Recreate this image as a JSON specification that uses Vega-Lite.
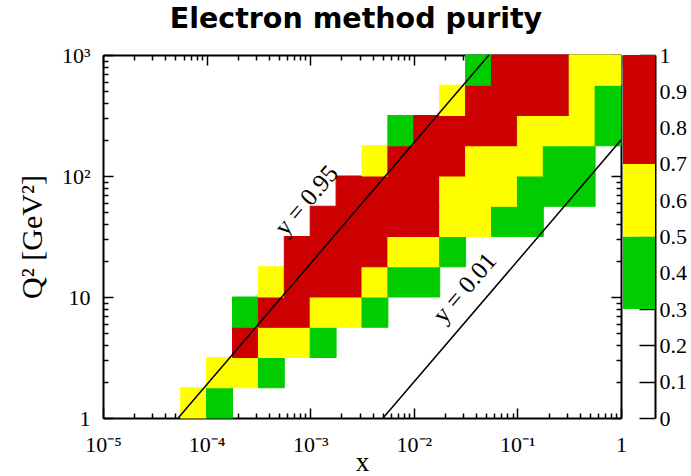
{
  "$schema": "https://vega.github.io/schema/vega-lite/v6.json",
  "background": "white",
  "padding": {"left": 17, "top": 4, "right": 0, "bottom": 0},
  "title": {"text": "Electron method purity", "font": "DejaVu Sans", "fontSize": 28.5, "fontWeight": "bold", "color": "black", "anchor": "middle", "offset": 11, "dx": 4},
  "config": {
    "view": {"stroke": null},
    "axis": {
      "labelFont": "Liberation Serif", "labelFontSize": 22, "labelColor": "black",
      "titleFont": "Liberation Serif", "titleFontSize": 30, "titleFontWeight": "normal", "titleColor": "black",
      "tickColor": "black", "tickWidth": 1.5, "domainColor": "black", "domainWidth": 2,
      "grid": false, "labelFlush": false, "labelOverlap": false, "labelBound": false
    }
  },
  "datasets": {
    "cells": [
      {"x0":5.623e-5,"x1":1e-4,"q0":1,"q1":1.778,"p":0.6},
      {"x0":1e-4,"x1":1.778e-4,"q0":1,"q1":1.778,"p":0.4},
      {"x0":1e-4,"x1":1.778e-4,"q0":1.778,"q1":3.162,"p":0.6},
      {"x0":1.778e-4,"x1":3.162e-4,"q0":1.778,"q1":3.162,"p":0.6},
      {"x0":3.162e-4,"x1":5.623e-4,"q0":1.778,"q1":3.162,"p":0.4},
      {"x0":1.778e-4,"x1":3.162e-4,"q0":3.162,"q1":5.623,"p":0.85},
      {"x0":3.162e-4,"x1":5.623e-4,"q0":3.162,"q1":5.623,"p":0.6},
      {"x0":5.623e-4,"x1":1e-3,"q0":3.162,"q1":5.623,"p":0.6},
      {"x0":1e-3,"x1":1.778e-3,"q0":3.162,"q1":5.623,"p":0.4},
      {"x0":1.778e-4,"x1":3.162e-4,"q0":5.623,"q1":10,"p":0.4},
      {"x0":3.162e-4,"x1":5.623e-4,"q0":5.623,"q1":10,"p":0.85},
      {"x0":5.623e-4,"x1":1e-3,"q0":5.623,"q1":10,"p":0.85},
      {"x0":1e-3,"x1":1.778e-3,"q0":5.623,"q1":10,"p":0.6},
      {"x0":1.778e-3,"x1":3.162e-3,"q0":5.623,"q1":10,"p":0.6},
      {"x0":3.162e-3,"x1":5.623e-3,"q0":5.623,"q1":10,"p":0.4},
      {"x0":3.162e-4,"x1":5.623e-4,"q0":10,"q1":17.78,"p":0.6},
      {"x0":5.623e-4,"x1":1e-3,"q0":10,"q1":17.78,"p":0.85},
      {"x0":1e-3,"x1":1.778e-3,"q0":10,"q1":17.78,"p":0.85},
      {"x0":1.778e-3,"x1":3.162e-3,"q0":10,"q1":17.78,"p":0.85},
      {"x0":3.162e-3,"x1":5.623e-3,"q0":10,"q1":17.78,"p":0.6},
      {"x0":5.623e-3,"x1":0.01,"q0":10,"q1":17.78,"p":0.4},
      {"x0":0.01,"x1":0.01778,"q0":10,"q1":17.78,"p":0.4},
      {"x0":5.623e-4,"x1":1e-3,"q0":17.78,"q1":31.62,"p":0.85},
      {"x0":1e-3,"x1":1.778e-3,"q0":17.78,"q1":31.62,"p":0.85},
      {"x0":1.778e-3,"x1":3.162e-3,"q0":17.78,"q1":31.62,"p":0.85},
      {"x0":3.162e-3,"x1":5.623e-3,"q0":17.78,"q1":31.62,"p":0.85},
      {"x0":5.623e-3,"x1":0.01,"q0":17.78,"q1":31.62,"p":0.6},
      {"x0":0.01,"x1":0.01778,"q0":17.78,"q1":31.62,"p":0.6},
      {"x0":0.01778,"x1":0.03162,"q0":17.78,"q1":31.62,"p":0.4},
      {"x0":1e-3,"x1":1.778e-3,"q0":31.62,"q1":56.23,"p":0.85},
      {"x0":1.778e-3,"x1":3.162e-3,"q0":31.62,"q1":56.23,"p":0.85},
      {"x0":3.162e-3,"x1":5.623e-3,"q0":31.62,"q1":56.23,"p":0.85},
      {"x0":5.623e-3,"x1":0.01,"q0":31.62,"q1":56.23,"p":0.85},
      {"x0":0.01,"x1":0.01778,"q0":31.62,"q1":56.23,"p":0.85},
      {"x0":0.01778,"x1":0.03162,"q0":31.62,"q1":56.23,"p":0.6},
      {"x0":0.03162,"x1":0.05623,"q0":31.62,"q1":56.23,"p":0.6},
      {"x0":0.05623,"x1":0.1,"q0":31.62,"q1":56.23,"p":0.4},
      {"x0":0.1,"x1":0.1778,"q0":31.62,"q1":56.23,"p":0.4},
      {"x0":1.778e-3,"x1":3.162e-3,"q0":56.23,"q1":100,"p":0.85},
      {"x0":3.162e-3,"x1":5.623e-3,"q0":56.23,"q1":100,"p":0.85},
      {"x0":5.623e-3,"x1":0.01,"q0":56.23,"q1":100,"p":0.85},
      {"x0":0.01,"x1":0.01778,"q0":56.23,"q1":100,"p":0.85},
      {"x0":0.01778,"x1":0.03162,"q0":56.23,"q1":100,"p":0.6},
      {"x0":0.03162,"x1":0.05623,"q0":56.23,"q1":100,"p":0.6},
      {"x0":0.05623,"x1":0.1,"q0":56.23,"q1":100,"p":0.6},
      {"x0":0.1,"x1":0.1778,"q0":56.23,"q1":100,"p":0.4},
      {"x0":0.1778,"x1":0.3162,"q0":56.23,"q1":100,"p":0.4},
      {"x0":0.3162,"x1":0.5623,"q0":56.23,"q1":100,"p":0.4},
      {"x0":3.162e-3,"x1":5.623e-3,"q0":100,"q1":177.8,"p":0.6},
      {"x0":5.623e-3,"x1":0.01,"q0":100,"q1":177.8,"p":0.85},
      {"x0":0.01,"x1":0.01778,"q0":100,"q1":177.8,"p":0.85},
      {"x0":0.01778,"x1":0.03162,"q0":100,"q1":177.8,"p":0.85},
      {"x0":0.03162,"x1":0.05623,"q0":100,"q1":177.8,"p":0.6},
      {"x0":0.05623,"x1":0.1,"q0":100,"q1":177.8,"p":0.6},
      {"x0":0.1,"x1":0.1778,"q0":100,"q1":177.8,"p":0.6},
      {"x0":0.1778,"x1":0.3162,"q0":100,"q1":177.8,"p":0.4},
      {"x0":0.3162,"x1":0.5623,"q0":100,"q1":177.8,"p":0.4},
      {"x0":5.623e-3,"x1":0.01,"q0":177.8,"q1":316.2,"p":0.4},
      {"x0":0.01,"x1":0.01778,"q0":177.8,"q1":316.2,"p":0.85},
      {"x0":0.01778,"x1":0.03162,"q0":177.8,"q1":316.2,"p":0.85},
      {"x0":0.03162,"x1":0.05623,"q0":177.8,"q1":316.2,"p":0.85},
      {"x0":0.05623,"x1":0.1,"q0":177.8,"q1":316.2,"p":0.85},
      {"x0":0.1,"x1":0.1778,"q0":177.8,"q1":316.2,"p":0.6},
      {"x0":0.1778,"x1":0.3162,"q0":177.8,"q1":316.2,"p":0.6},
      {"x0":0.3162,"x1":0.5623,"q0":177.8,"q1":316.2,"p":0.6},
      {"x0":0.5623,"x1":1,"q0":177.8,"q1":316.2,"p":0.4},
      {"x0":0.01778,"x1":0.03162,"q0":316.2,"q1":562.3,"p":0.6},
      {"x0":0.03162,"x1":0.05623,"q0":316.2,"q1":562.3,"p":0.85},
      {"x0":0.05623,"x1":0.1,"q0":316.2,"q1":562.3,"p":0.85},
      {"x0":0.1,"x1":0.1778,"q0":316.2,"q1":562.3,"p":0.85},
      {"x0":0.1778,"x1":0.3162,"q0":316.2,"q1":562.3,"p":0.85},
      {"x0":0.3162,"x1":0.5623,"q0":316.2,"q1":562.3,"p":0.6},
      {"x0":0.5623,"x1":1,"q0":316.2,"q1":562.3,"p":0.4},
      {"x0":0.03162,"x1":0.05623,"q0":562.3,"q1":1000,"p":0.4},
      {"x0":0.05623,"x1":0.1,"q0":562.3,"q1":1000,"p":0.85},
      {"x0":0.1,"x1":0.1778,"q0":562.3,"q1":1000,"p":0.85},
      {"x0":0.1778,"x1":0.3162,"q0":562.3,"q1":1000,"p":0.85},
      {"x0":0.3162,"x1":0.5623,"q0":562.3,"q1":1000,"p":0.6},
      {"x0":0.5623,"x1":1,"q0":562.3,"q1":1000,"p":0.6}
    ],
    "lines": [
      {"name":"y = 0.95","x":5.316e-5,"q2":1},
      {"name":"y = 0.95","x":0.05316,"q2":1000},
      {"name":"y = 0.01","x":0.00505,"q2":1},
      {"name":"y = 0.01","x":1,"q2":198}
    ],
    "labels": [
      {"label":"y = 0.95","x":9.2e-4,"q2":63},
      {"label":"y = 0.01","x":0.031,"q2":11.9}
    ],
    "cbar": [
      {"lo":0.3,"hi":0.5,"p":0.4},
      {"lo":0.5,"hi":0.7,"p":0.6},
      {"lo":0.7,"hi":1,"p":0.85}
    ]
  },
  "bounds": "flush",
  "spacing": 2,
  "resolve": {"scale": {"x": "independent", "y": "independent", "color": "independent"}},
  "hconcat": [
    {
      "width": 518,
      "height": 363,
      "resolve": {"axis": {"x": "independent", "y": "independent"}},
      "layer": [
        {
          "data": {"name": "cells"},
          "mark": {"type": "rect", "strokeWidth": 1},
          "encoding": {
            "x": {"field": "x0", "type": "quantitative",
              "scale": {"type": "log", "domain": [1e-5, 1], "nice": false},
              "axis": {"orient": "bottom", "title": "x", "titlePadding": -11, "titleFontSize": 27,
                "values": [1e-5,2e-5,3e-5,4e-5,5e-5,6e-5,7e-5,8e-5,9e-5,1e-4,2e-4,3e-4,4e-4,5e-4,6e-4,7e-4,8e-4,9e-4,1e-3,2e-3,3e-3,4e-3,5e-3,6e-3,7e-3,8e-3,9e-3,0.01,0.02,0.03,0.04,0.05,0.06,0.07,0.08,0.09,0.1,0.2,0.3,0.4,0.5,0.6,0.7,0.8,0.9,1],
                "tickSize": {"condition": {"test": "abs(log(datum.value)/LN10 - round(log(datum.value)/LN10)) < 0.001", "value": -10}, "value": -5},
                "labelPadding": 26,
                "labelExpr": "abs(log(datum.value)/LN10 - round(log(datum.value)/LN10)) < 0.001 ? (datum.value > 0.5 ? '1' : '10⁻' + ['⁰','¹','²','³','⁴','⁵'][round(-log(datum.value)/LN10)]) : ''"}},
            "x2": {"field": "x1"},
            "y": {"field": "q0", "type": "quantitative",
              "scale": {"type": "log", "domain": [1, 1000], "nice": false},
              "axis": {"orient": "left", "title": "Q² [GeV²]", "titlePadding": 14,
                "values": [1,2,3,4,5,6,7,8,9,10,20,30,40,50,60,70,80,90,100,200,300,400,500,600,700,800,900,1000],
                "tickSize": {"condition": {"test": "abs(log(datum.value)/LN10 - round(log(datum.value)/LN10)) < 0.001", "value": -10}, "value": -5},
                "labelPadding": 23,
                "labelExpr": "abs(log(datum.value)/LN10 - round(log(datum.value)/LN10)) < 0.001 ? ['1','10','10²','10³'][round(log(datum.value)/LN10)] : ''"}},
            "y2": {"field": "q1"},
            "color": {"field": "p", "type": "quantitative",
              "scale": {"type": "threshold", "domain": [0.3, 0.5, 0.7], "range": ["#ffffff", "#00cc00", "#ffff00", "#cc0000"]},
              "legend": null},
            "stroke": {"field": "p", "type": "quantitative",
              "scale": {"type": "threshold", "domain": [0.3, 0.5, 0.7], "range": ["#ffffff", "#00cc00", "#ffff00", "#cc0000"]},
              "legend": null}
          }
        },
        {
          "data": {"name": "lines"},
          "mark": {"type": "line", "color": "black", "strokeWidth": 1.5, "clip": true},
          "encoding": {
            "x": {"field": "x", "type": "quantitative",
              "scale": {"type": "log", "domain": [1e-5, 1], "nice": false},
              "axis": {"orient": "top", "title": null, "labels": false,
                "values": [1e-5,2e-5,3e-5,4e-5,5e-5,6e-5,7e-5,8e-5,9e-5,1e-4,2e-4,3e-4,4e-4,5e-4,6e-4,7e-4,8e-4,9e-4,1e-3,2e-3,3e-3,4e-3,5e-3,6e-3,7e-3,8e-3,9e-3,0.01,0.02,0.03,0.04,0.05,0.06,0.07,0.08,0.09,0.1,0.2,0.3,0.4,0.5,0.6,0.7,0.8,0.9,1],
                "tickSize": {"condition": {"test": "abs(log(datum.value)/LN10 - round(log(datum.value)/LN10)) < 0.001", "value": -10}, "value": -5}}},
            "y": {"field": "q2", "type": "quantitative",
              "scale": {"type": "log", "domain": [1, 1000], "nice": false},
              "axis": {"orient": "right", "title": null, "labels": false,
                "values": [1,2,3,4,5,6,7,8,9,10,20,30,40,50,60,70,80,90,100,200,300,400,500,600,700,800,900,1000],
                "tickSize": {"condition": {"test": "abs(log(datum.value)/LN10 - round(log(datum.value)/LN10)) < 0.001", "value": -10}, "value": -5}}},
            "detail": {"field": "name"}
          }
        },
        {
          "data": {"name": "labels"},
          "mark": {"type": "text", "angle": -49.4, "font": "Liberation Serif", "fontSize": 25, "color": "black"},
          "encoding": {
            "x": {"field": "x", "type": "quantitative", "scale": {"type": "log", "domain": [1e-5, 1], "nice": false}, "axis": null},
            "y": {"field": "q2", "type": "quantitative", "scale": {"type": "log", "domain": [1, 1000], "nice": false}, "axis": null},
            "text": {"field": "label"}
          }
        }
      ]
    },
    {
      "width": 32,
      "height": 363,
      "data": {"name": "cbar"},
      "mark": {"type": "rect"},
      "encoding": {
        "y": {"field": "lo", "type": "quantitative",
          "scale": {"domain": [0, 1], "nice": false, "zero": false},
          "axis": {"orient": "right", "title": null,
            "values": [0,0.1,0.2,0.3,0.4,0.5,0.6,0.7,0.8,0.9,1],
            "tickSize": -16, "labelPadding": 20,
            "labelExpr": "datum.value < 0.01 ? '0' : datum.value > 0.99 ? '1' : format(datum.value, '.1f')"}},
        "y2": {"field": "hi"},
        "color": {"field": "p", "type": "quantitative",
          "scale": {"type": "threshold", "domain": [0.3, 0.5, 0.7], "range": ["#ffffff", "#00cc00", "#ffff00", "#cc0000"]},
          "legend": null}
      }
    }
  ]
}
